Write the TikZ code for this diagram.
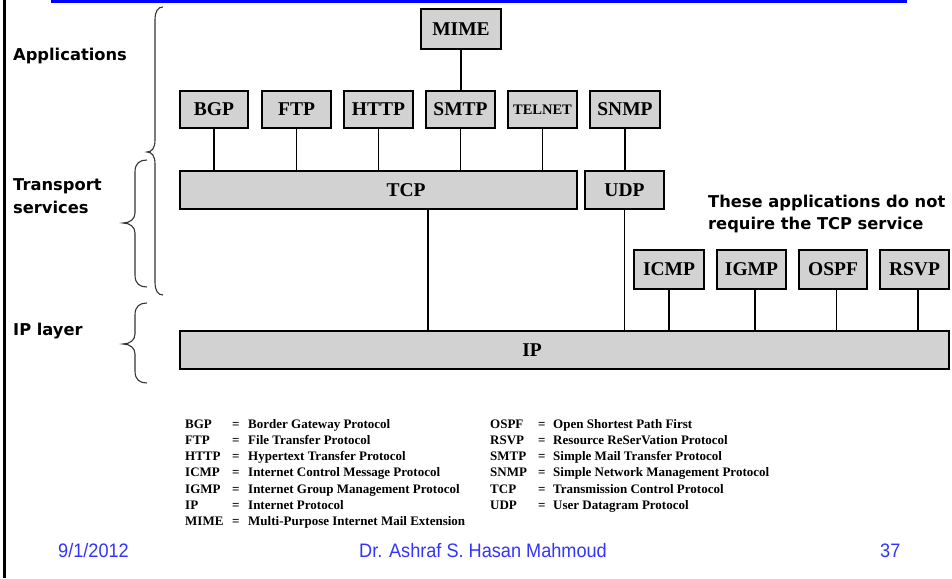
\documentclass[tikz,border=0pt]{standalone}
\usepackage{fontspec}
\setmainfont{Liberation Serif}
\newfontfamily\labelsans{DejaVu Sans}
\newfontfamily\footsans[FakeStretch=0.93]{Liberation Sans}
\usetikzlibrary{calc}

\definecolor{boxgray}{RGB}{210,210,210}
\definecolor{footblue}{RGB}{51,51,255}

\tikzset{
  proto/.style={draw=black, line width=1.8pt, fill=boxgray,
                inner sep=0pt, outer sep=0pt},
  protoname/.style={inner sep=0pt, font=\fontsize{19.5}{20}\selectfont\bfseries},
  smallname/.style={inner sep=0pt, font=\fontsize{14.5}{15}\selectfont\bfseries},
  link/.style={draw=black, line width=1.7pt},
  bracestroke/.style={draw=black!80, line width=1.1pt},
  layerlabel/.style={anchor=base west, inner sep=0pt,
                     font=\labelsans\fontsize{16.3}{19}\selectfont\bfseries},
  legtext/.style={anchor=base west, inner sep=0pt,
                  font=\fontsize{13}{14}\selectfont\bfseries},
  foottext/.style={anchor=base west, inner sep=0pt, text=footblue,
                   font=\footsans\fontsize{19.5}{21}\selectfont},
}

\begin{document}
\begin{tikzpicture}[x=1pt, y=-1pt]
\useasboundingbox (0,0) rectangle (952,578);

% slide frame: blue title rule and left edge
\fill[blue] (51,0) rectangle (907,3.5);
\draw[line width=2.3pt] (4.5,0) -- (4.5,578);

% application layer
\node[proto, minimum width=80pt, minimum height=40pt] (mime) at (461,29) {};
\node[protoname] (mimet) at (mime) {MIME};
\node[proto, minimum width=68pt, minimum height=37pt] (bgp) at (214,109.5) {};
\node[protoname] (bgpt) at (bgp) {BGP};
\node[proto, minimum width=69pt, minimum height=37pt] (ftp) at (296.5,109.5) {};
\node[protoname] (ftpt) at (ftp) {FTP};
\node[proto, minimum width=69pt, minimum height=37pt] (http) at (378.5,109.5) {};
\node[protoname] (httpt) at (http) {HTTP};
\node[proto, minimum width=69pt, minimum height=37pt] (smtp) at (460.5,109.5) {};
\node[protoname] (smtpt) at (smtp) {SMTP};
\node[proto, minimum width=69pt, minimum height=37pt] (telnet) at (542.5,109.5) {};
\node[smallname] (telnett) at (telnet) {TELNET};
\node[proto, minimum width=70pt, minimum height=37pt] (snmp) at (625,109.5) {};
\node[protoname] (snmpt) at (snmp) {SNMP};

% transport layer
\node[proto, minimum width=397pt, minimum height=38pt] (tcp) at (378.5,190) {};
\node[protoname] (tcpt) at (406,190) {TCP};
\node[proto, minimum width=79pt, minimum height=38pt] (udp) at (624.5,190) {};
\node[protoname] (udpt) at (udp) {UDP};

% protocols sitting directly on IP
\node[proto, minimum width=70pt, minimum height=39pt] (icmp) at (669,269.5) {};
\node[protoname] (icmpt) at (icmp) {ICMP};
\node[proto, minimum width=69pt, minimum height=39pt] (igmp) at (751.5,269.5) {};
\node[protoname] (igmpt) at (igmp) {IGMP};
\node[proto, minimum width=68pt, minimum height=39pt] (ospf) at (833,269.5) {};
\node[protoname] (ospft) at (ospf) {OSPF};
\node[proto, minimum width=69pt, minimum height=39pt] (rsvp) at (914.5,269.5) {};
\node[protoname] (rsvpt) at (rsvp) {RSVP};

% IP layer
\node[proto, minimum width=769pt, minimum height=38pt] (ip) at (564.5,350) {};
\node[protoname] (ipt) at (532,350) {IP};

% connectors
\draw[link] (mime.south) -- (mime.south |- smtp.north);
\foreach \app in {bgp,ftp,http,smtp,telnet}
  \draw[link] (\app.south) -- (\app.south |- tcp.north);
\draw[link] (snmp.south) -- (snmp.south |- udp.north);
\coordinate (tcpdrop) at (428,0);
\draw[link] (tcp.south -| tcpdrop) -- (ip.north -| tcpdrop);
\draw[link] (udp.south) -- (udp.south |- ip.north);
\draw[link] (icmp.south) -- (icmp.south |- ip.north);
\foreach \app in {igmp,ospf,rsvp}
  \draw[link] (\app.south) ++(3.5,0) coordinate (\app foot) -- (\app foot |- ip.north);

% layer braces
\draw[bracestroke] (163,7) .. controls (158,7) and (155,11) .. (155,20) -- (155,140)
  .. controls (155,148) and (152,152) .. (147,152)
  .. controls (152,152) and (155,156) .. (155,164) -- (155,282)
  .. controls (155,291) and (158,295) .. (163,295);
\draw[bracestroke] (147,160) .. controls (140,160) and (135,163) .. (135,172) -- (135,213)
  .. controls (135,219) and (130,223) .. (123,223)
  .. controls (130,223) and (135,227) .. (135,233) -- (135,275)
  .. controls (135,284) and (140,287) .. (147,287);
\draw[bracestroke] (147,303) .. controls (140,303) and (135,306) .. (135,315) -- (135,334)
  .. controls (135,340) and (130,344) .. (123,344)
  .. controls (130,344) and (135,348) .. (135,354) -- (135,371)
  .. controls (135,380) and (140,383) .. (147,383);

% layer names
\node[layerlabel] (lapps) at (13,60) {Applications};
\node[layerlabel] (ltrans1) at (13,190) {Transport};
\node[layerlabel] (ltrans2) at (13,213) {services};
\node[layerlabel] (lip) at (13,335) {IP layer};
\node[layerlabel] (note1) at (708,207) {These applications do not};
\node[layerlabel] (note2) at (708,229) {require the TCP service};

% abbreviation key
\foreach \ab/\full [count=\i] in {BGP/Border Gateway Protocol,
    FTP/File Transfer Protocol, HTTP/Hypertext Transfer Protocol,
    ICMP/Internet Control Message Protocol,
    IGMP/Internet Group Management Protocol, IP/Internet Protocol,
    MIME/Multi-Purpose Internet Mail Extension} {
  \node[legtext] (ka\i) at (185,{428+16.3*(\i-1)}) {\ab};
  \node[legtext] (ke\i) at (232,{428+16.3*(\i-1)}) {=};
  \node[legtext] (kd\i) at (248,{428+16.3*(\i-1)}) {\full};
}
\foreach \ab/\full [count=\i] in {OSPF/Open Shortest Path First,
    RSVP/Resource ReSerVation Protocol, SMTP/Simple Mail Transfer Protocol,
    SNMP/Simple Network Management Protocol,
    TCP/Transmission Control Protocol, UDP/User Datagram Protocol} {
  \node[legtext] (kb\i) at (490,{428+16.3*(\i-1)}) {\ab};
  \node[legtext] (kf\i) at (538,{428+16.3*(\i-1)}) {=};
  \node[legtext] (kg\i) at (553,{428+16.3*(\i-1)}) {\full};
}

% footer
\node[foottext] (fdate) at (58,557) {9/1/2012};
\node[foottext] (fauthor) at (359,557) {Dr. Ashraf S. Hasan Mahmoud};
\node[foottext] (fpage) at (880,557) {37};
\end{tikzpicture}
\end{document}
